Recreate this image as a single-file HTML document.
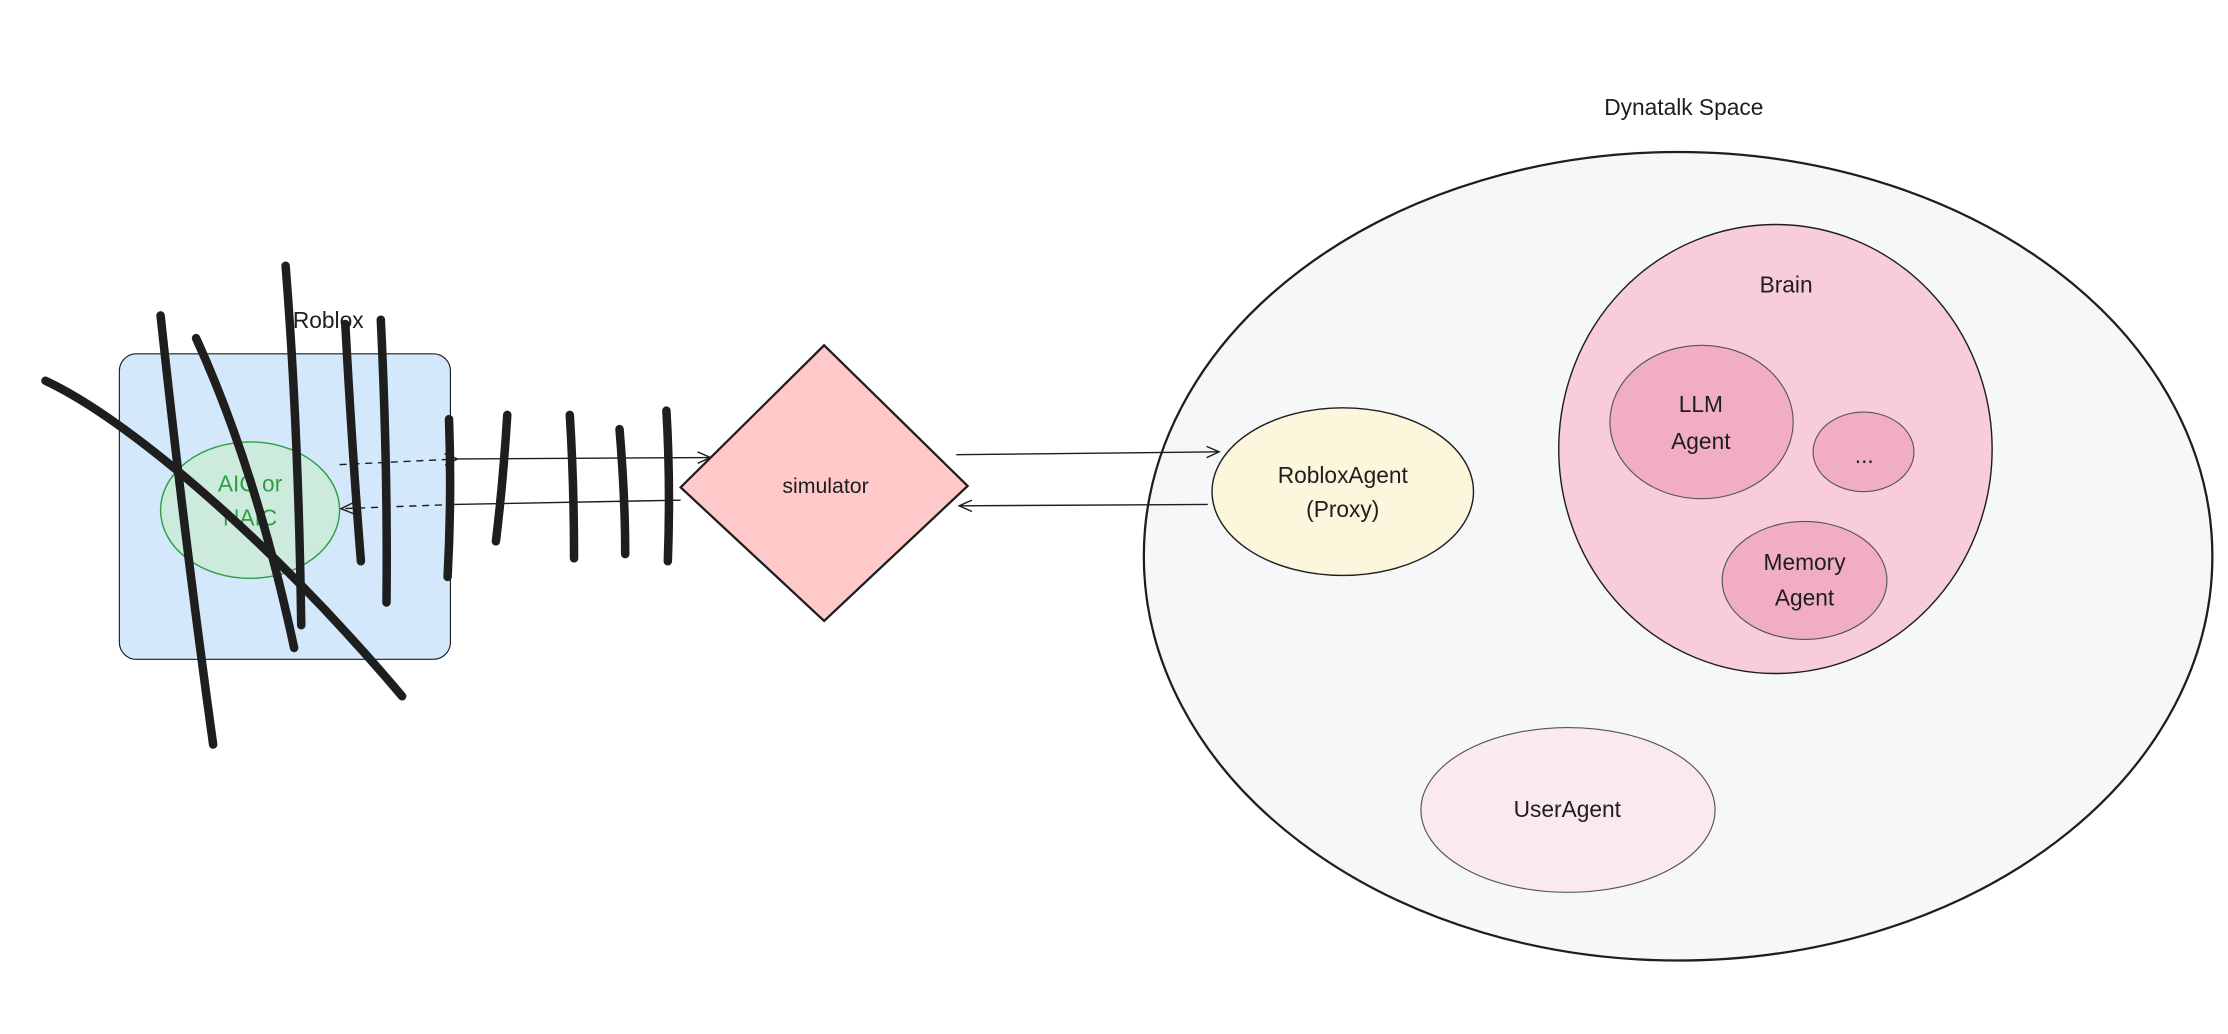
<!DOCTYPE html>
<html><head><meta charset="utf-8"><style>
html,body{margin:0;padding:0;background:#fff;width:2228px;height:1034px;overflow:hidden}
svg{display:block}
text{font-family:"Liberation Sans",sans-serif;fill:#1e1e1e}
</style></head><body>
<svg width="2228" height="1034" viewBox="0 0 1568 727.7" xmlns="http://www.w3.org/2000/svg">
<defs>
<marker id="ah" viewBox="0 0 10 10" refX="9" refY="5" markerWidth="10" markerHeight="10" orient="auto-start-reverse" markerUnits="userSpaceOnUse">
<path d="M0,1 L9,5 L0,9" fill="none" stroke="#1e1e1e" stroke-width="1"/></marker>
</defs>
<text x="1185" y="81" font-size="16" text-anchor="middle">Dynatalk Space</text>
<ellipse cx="1181" cy="391.5" rx="376" ry="284.5" fill="#f5f7f9" stroke="#1e1e1e" stroke-width="1.6"/>
<ellipse cx="1249.5" cy="316" rx="152.5" ry="158" fill="#f8cdd9" stroke="#1e1e1e" stroke-width="1"/>
<text x="1257" y="206" font-size="16" text-anchor="middle">Brain</text>
<ellipse cx="1197.5" cy="297" rx="64.5" ry="54" fill="#f1aec2" stroke="#555" stroke-width="0.8"/>
<text x="1197" y="290" font-size="16" text-anchor="middle">LLM</text>
<text x="1197" y="316" font-size="16" text-anchor="middle">Agent</text>
<ellipse cx="1311.5" cy="318" rx="35.5" ry="28" fill="#f1aec2" stroke="#555" stroke-width="0.8"/>
<text x="1312" y="326" font-size="16" text-anchor="middle">...</text>
<ellipse cx="1270" cy="408.5" rx="58" ry="41.5" fill="#f1aec2" stroke="#555" stroke-width="0.8"/>
<text x="1270" y="401" font-size="16" text-anchor="middle">Memory</text>
<text x="1270" y="426" font-size="16" text-anchor="middle">Agent</text>
<ellipse cx="945" cy="346" rx="92" ry="59" fill="#fcf6dc" stroke="#1e1e1e" stroke-width="1"/>
<text x="945" y="340" font-size="16" text-anchor="middle">RobloxAgent</text>
<text x="945" y="364" font-size="16" text-anchor="middle">(Proxy)</text>
<ellipse cx="1103.5" cy="570" rx="103.5" ry="58" fill="#fae9ed" stroke="#555" stroke-width="0.8"/>
<text x="1103" y="575" font-size="16" text-anchor="middle">UserAgent</text>
<line x1="673" y1="320" x2="858" y2="318" stroke="#1e1e1e" stroke-width="1" marker-end="url(#ah)"/>
<line x1="850" y1="355" x2="675" y2="356" stroke="#1e1e1e" stroke-width="1" marker-end="url(#ah)"/>
<polygon points="580,243 681,342 580,437 479,343" fill="#ffc9c9" stroke="#1e1e1e" stroke-width="1.6"/>
<text x="581" y="347" font-size="15" text-anchor="middle">simulator</text>
<text x="231" y="231" font-size="16" text-anchor="middle">Roblox</text>
<rect x="84" y="249" width="233" height="215" rx="12" fill="#d3e8fb" stroke="#1e1e1e" stroke-width="0.8"/>
<ellipse cx="176" cy="359" rx="63" ry="48" fill="#cdebdc" stroke="#2f9e44" stroke-width="1"/>
<text x="176" y="346" font-size="16" text-anchor="middle" style="fill:#2f9e44">AIC or</text>
<text x="176" y="370" font-size="16" text-anchor="middle" style="fill:#2f9e44">NAIC</text>
<line x1="239" y1="327" x2="322" y2="323" stroke="#1e1e1e" stroke-width="1" stroke-dasharray="5,4" marker-end="url(#ah)"/>
<line x1="322" y1="323" x2="500" y2="322" stroke="#1e1e1e" stroke-width="1" marker-end="url(#ah)"/>
<line x1="479" y1="352" x2="320" y2="355" stroke="#1e1e1e" stroke-width="1"/>
<line x1="320" y1="355" x2="240" y2="358" stroke="#1e1e1e" stroke-width="1" stroke-dasharray="5,4" marker-end="url(#ah)"/>
<g fill="none" stroke="#1e1e1e" stroke-width="6" stroke-linecap="round">
<path d="M32,268 C90,295 190,380 283,490"/>
<path d="M113,222 Q130,380 150,524"/>
<path d="M138,238 Q180,330 207,456"/>
<path d="M201,187 Q210,300 212,440"/>
<path d="M243,228 Q248,320 254,395"/>
<path d="M268,225 Q273,330 272,424"/>
<path d="M316,295 Q318,350 315,406"/>
<path d="M357,292 Q354,340 349,381"/>
<path d="M401,292 Q404,340 404,393"/>
<path d="M436,302 Q440,350 440,390"/>
<path d="M469,289 Q472,340 470,395"/>
</g>
</svg>
</body></html>
